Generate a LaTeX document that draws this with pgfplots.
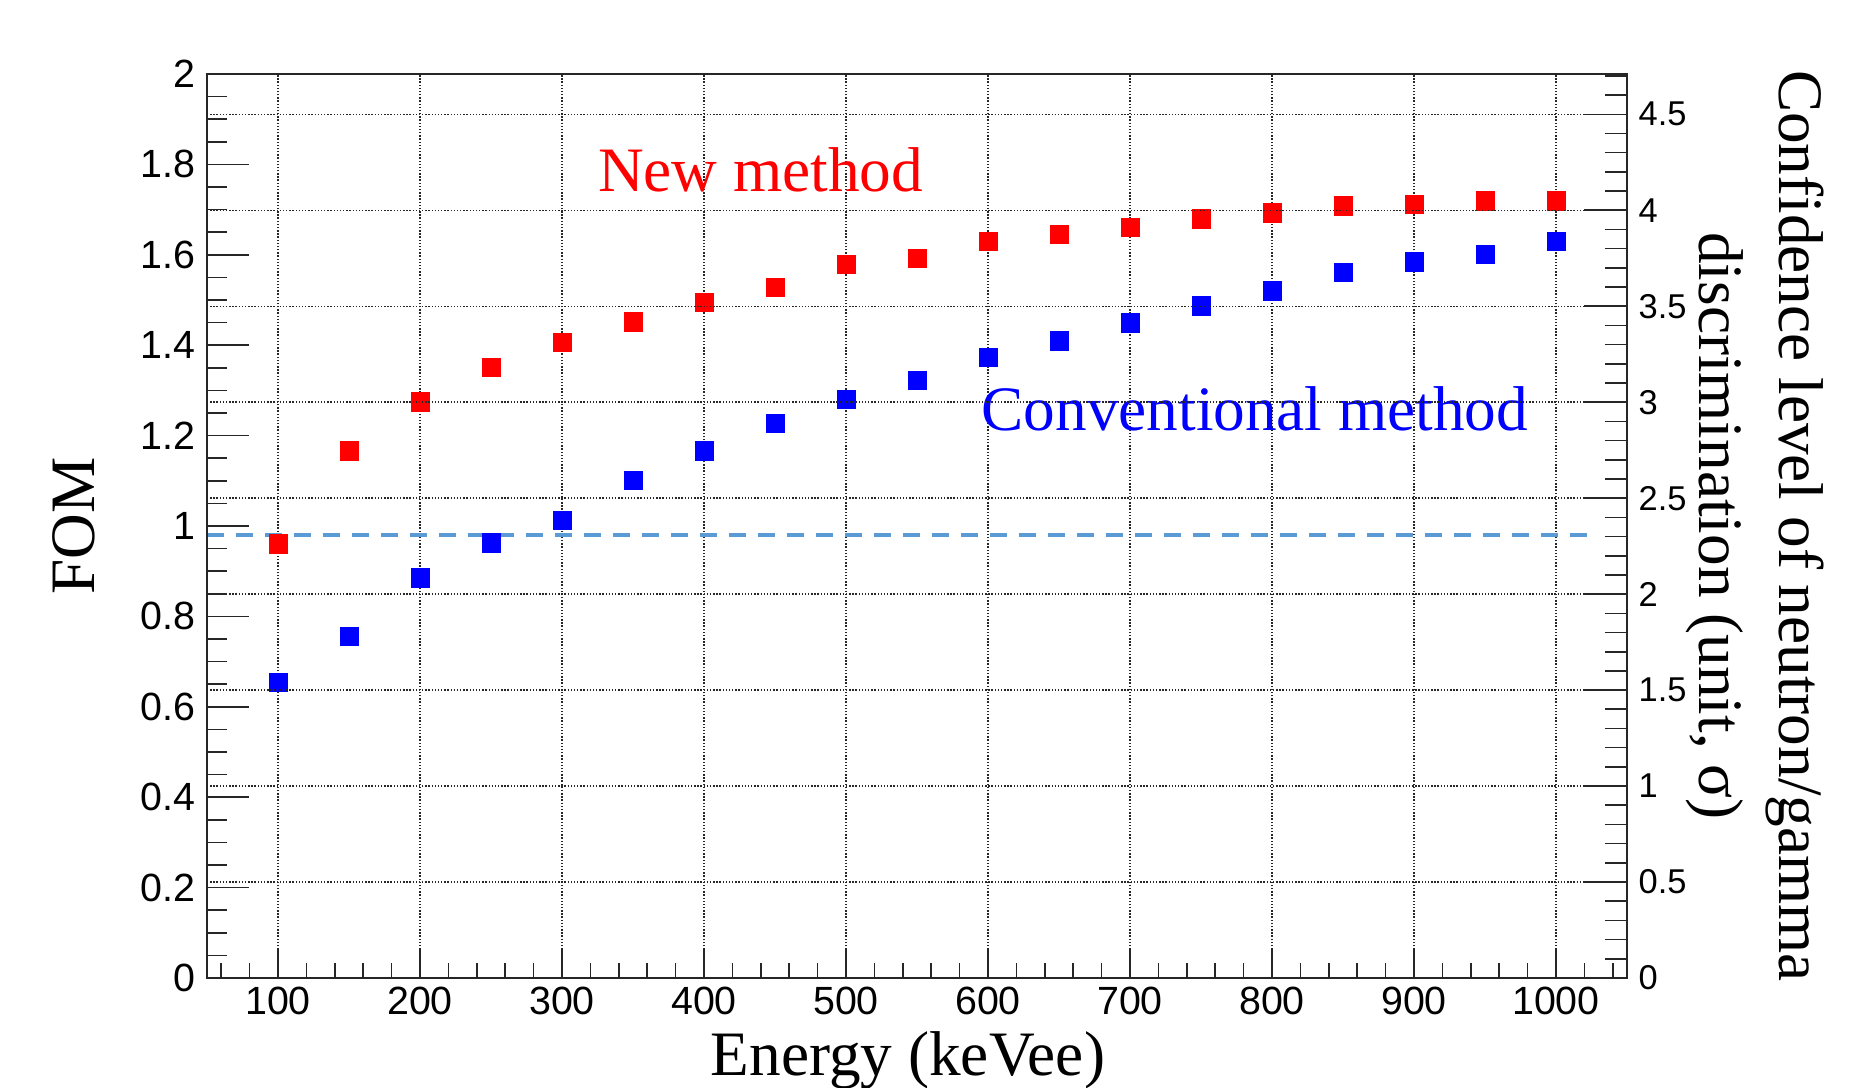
\documentclass[border=0pt]{standalone}
\usepackage{fontspec}
\setmainfont{Liberation Serif}
\newfontfamily\arial{Liberation Sans}
\usepackage{pgfplots}
\pgfplotsset{compat=1.18}
\definecolor{dashblue}{RGB}{91,155,213}
\pgfplotsset{
  base/.style={
    scale only axis, width=142mm, height=90.4mm,
    xmin=50, xmax=1050,
    /pgf/number format/assume math mode=true,
    /pgf/number format/1000 sep={},
    scaled ticks=false,
    axis line style={black!85, line width=0.45pt},
    tick style={black!85, line width=0.45pt},
  }
}
\pgfplotstableread{
x new conv
100 0.961 0.655
150 1.167 0.756
200 1.275 0.886
250 1.352 0.963
300 1.407 1.013
350 1.452 1.101
400 1.495 1.167
450 1.529 1.228
500 1.579 1.280
550 1.593 1.323
600 1.630 1.373
650 1.646 1.410
700 1.661 1.450
750 1.680 1.487
800 1.693 1.521
850 1.709 1.561
900 1.712 1.585
950 1.720 1.601
1000 1.720 1.630
}\fomdata
\usepackage{pgfplotstable}
\begin{document}
\begin{tikzpicture}
\begin{axis}[base, ymin=0, ymax=2,
  tick align=inside,
  xtick={100,200,...,1000}, minor xtick={60,80,...,1040},
  xtick pos=bottom, ytick=\empty,
  major tick length=2.8mm, minor tick length=1.5mm,
  xmajorgrids,
  grid style={black!85, line width=0.4pt, dash pattern=on 0.4pt off 0.5pt},
  xticklabel style={font=\arial\fontsize{11.2}{13}\selectfont, inner sep=0.8mm},
]
\addplot[color=dashblue, line width=0.95pt, dash pattern=on 1.7mm off 1.2mm] coordinates {(50,0.98) (1022,0.98)};
\addplot[only marks, mark=square*, mark size=0.92mm, mark options={fill=red, draw=red, line width=0.1pt}] table[x=x, y=new] {\fomdata};
\addplot[only marks, mark=square*, mark size=0.92mm, mark options={fill=blue, draw=blue, line width=0.1pt}] table[x=x, y=conv] {\fomdata};
\node[anchor=base west, text=red, font=\fontsize{18}{22}\selectfont, inner sep=0pt] at (axis cs:325,1.741) {New method};
\node[anchor=base west, text=blue, font=\fontsize{18}{22}\selectfont, inner sep=0pt] at (axis cs:595,1.211) {Conventional method};
\end{axis}
\begin{axis}[base, ymin=0, ymax=2,
  hide x axis, axis y line*=left, tick align=inside,
  ytick={0,0.2,...,2}, minor ytick={0,0.05,...,2},
  major tick length=4.2mm, minor tick length=2.0mm,
  yticklabel style={font=\arial\fontsize{11.2}{13}\selectfont, inner sep=1.1mm},
]
\end{axis}
\begin{axis}[base, ymin=0, ymax=4.71,
  hide x axis, axis y line*=right, tick align=inside,
  ytick={0,0.5,...,4.5}, minor ytick={0,0.1,...,4.7},
  major tick length=4.3mm, minor tick length=2.2mm,
  ymajorgrids,
  grid style={black!85, line width=0.4pt, dash pattern=on 0.4pt off 0.5pt},
  yticklabel style={font=\arial\fontsize{9.8}{12}\selectfont, inner sep=1.1mm},
]
\end{axis}
\node[rotate=90, font=\fontsize{18}{22}\selectfont] at (-13.3mm,45.2mm) {FOM};
\node[anchor=base, font=\fontsize{18}{22}\selectfont] at (70.1mm,-9.8mm) {Energy (keVee)};
\node[rotate=-90, align=center, font=\fontsize{18}{23}\selectfont] at (154.8mm,45.2mm) {Confidence level of neutron/gamma\\discrimination (unit, σ)};
\pgfresetboundingbox
\useasboundingbox (-20.7mm,-11mm) rectangle (166.8mm,97.8mm);
\end{tikzpicture}
\end{document}
